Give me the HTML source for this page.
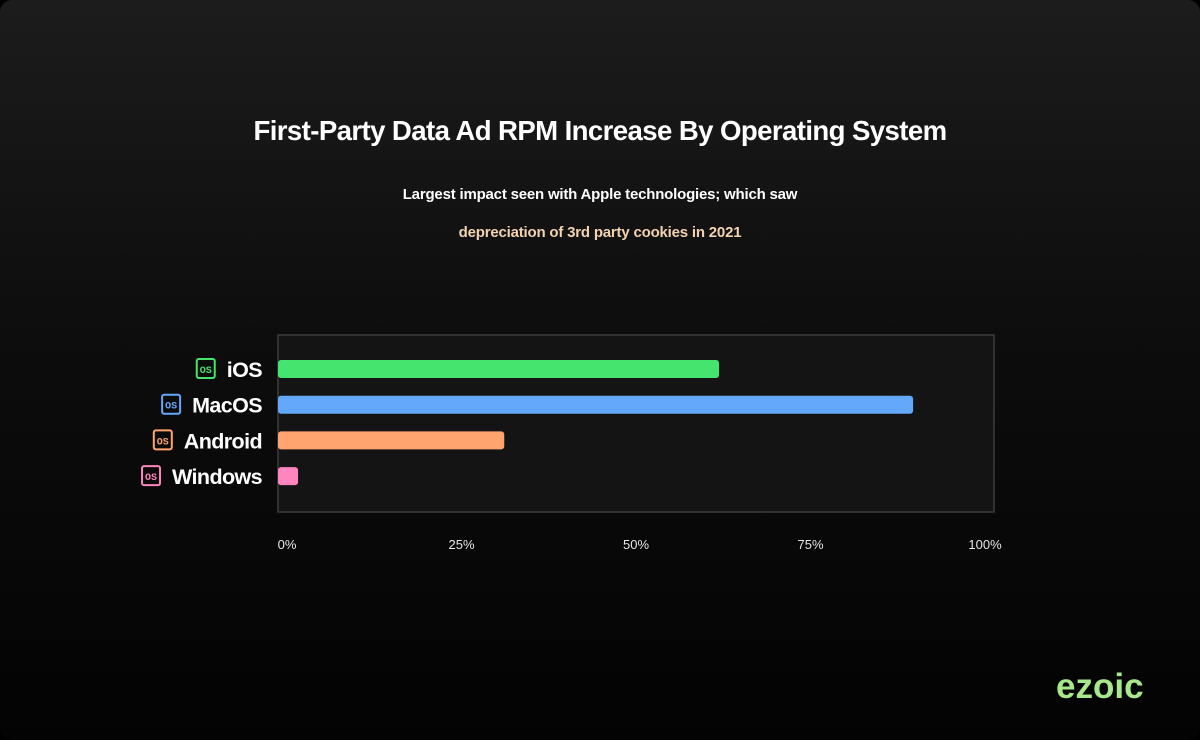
<!DOCTYPE html>
<html><head><meta charset="utf-8">
<style>
html,body{margin:0;padding:0;background:#000;}
#page{position:relative;width:1200px;height:740px;overflow:hidden;border-radius:12px;
background:linear-gradient(180deg,#1c1c1c 0%,#0d0d0d 45%,#030303 100%);font-family:"Liberation Sans",sans-serif;}
.t{position:absolute;left:0;width:1200px;text-align:center;color:#fff;}
</style></head><body>
<div id="page">
<div class="t" style="top:115px;font-size:27.6px;font-weight:bold;letter-spacing:-0.6px;">First-Party Data Ad RPM Increase By Operating System</div>
<div class="t" style="top:186px;font-size:15px;font-weight:bold;letter-spacing:-0.2px;">Largest impact seen with Apple technologies; which saw</div>
<div class="t" style="top:224px;font-size:15px;font-weight:bold;color:#f3d2b0;letter-spacing:-0.2px;">depreciation of 3rd party cookies in 2021</div>
<svg id="chart" width="1200" height="740" style="position:absolute;left:0;top:0"></svg>
<div style="position:absolute;left:1056px;top:667px;font-size:35px;font-weight:bold;color:#a6e88a;letter-spacing:0px;">ezoic</div>
</div>
<script>
const categories=["iOS","MacOS","Android","Windows"];
const values=[61.6,88.7,31.6,2.8];
const colors=["#44e46e","#64a8fb","#ffa36f","#ff85bf"];
const ticks=[0,25,50,75,100];
const tickLabels=["0%","25%","50%","75%","100%"];
const NS="http://www.w3.org/2000/svg";
const svg=document.getElementById('chart');
const x0=278,x1=994,plotTop=335,plotBot=512;
const xs=v=>x0+(v/100)*(x1-x0);
const bandTop=342,band=35.7;
const yb=i=>bandTop+i*band;
function mk(t,a){const e=document.createElementNS(NS,t);for(const k in a)e.setAttribute(k,a[k]);svg.appendChild(e);return e;}
const frame=mk('rect',{x:x0,y:plotTop,width:x1-x0,height:plotBot-plotTop,fill:'#141414',stroke:'#3c3c3c','stroke-width':1.5});


categories.forEach((c,i)=>{
  const y=yb(i)+18;
  const b=mk('rect',{x:x0,y:y,width:xs(values[i])-x0,height:18,rx:3,fill:colors[i]});
  
  
  const lbl=mk('text',{x:262,y:y+17,'text-anchor':'end',fill:'#fff','font-size':21.5,'font-weight':'bold','font-family':'Liberation Sans, sans-serif','letter-spacing':'-0.6'});
  lbl.textContent=c;
  
  
  const w=lbl.getComputedTextLength();
  const ix=262-w-30;
  const ic=mk('rect',{x:ix,y:y-1,width:18,height:19,rx:2,fill:'none',stroke:colors[i],'stroke-width':2});
  
  
  const it=mk('text',{x:ix+9,y:y+13,'text-anchor':'middle',fill:colors[i],'font-size':10,'font-family':'Liberation Mono, monospace','font-weight':'bold'});
  it.textContent='OS';
  
  
});
ticks.forEach((t,i)=>{
  const cx=287+(t/100)*(985-287);
  const tx=mk('text',{x:cx,y:549,'text-anchor':'middle',fill:'#e6e6e6','font-size':13,'font-family':'Liberation Sans, sans-serif'});
  tx.textContent=tickLabels[i];
  
  
});
</script>
</body></html>
